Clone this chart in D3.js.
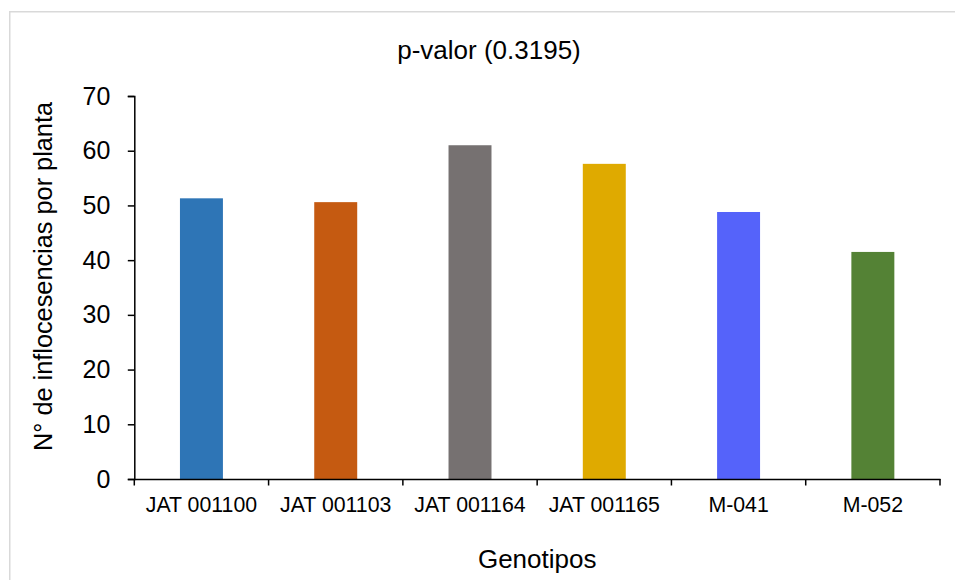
<!DOCTYPE html>
<html>
<head>
<meta charset="utf-8">
<script src="https://cdn.jsdelivr.net/npm/d3@7"></script>
<style>
  html, body { margin: 0; padding: 0; background: #fff; }
  svg { display: block; }
  text { font-family: "Liberation Sans", Arial, sans-serif; fill: #000; }
</style>
</head>
<body>
<svg id="chart" width="955" height="580"></svg>
<script>
const categories = ["JAT 001100", "JAT 001103", "JAT 001164", "JAT 001165", "M-041", "M-052"];
const values = [51.3, 50.6, 61.0, 57.6, 48.8, 41.5];
const colors = ["#2E75B6", "#C55A11", "#767171", "#DFAA00", "#5563FA", "#548235"];
const yTicks = [0, 10, 20, 30, 40, 50, 60, 70];
const title = "p-valor (0.3195)";
const xTitle = "Genotipos";
const yTitle = "N° de inflocesencias por planta";

const svg = d3.select("#chart");

// outer chart border
svg.append("rect")
  .attr("x", 9.75).attr("y", 11.75)
  .attr("width", 1000).attr("height", 1000)
  .attr("fill", "none").attr("stroke", "#D9D9D9").attr("stroke-width", 1.5);

const plotLeft = 134.3, plotRight = 940, plotTop = 96, plotBottom = 479;

const y = d3.scaleLinear().domain([0, 70]).range([plotBottom, plotTop]);
const x = d3.scaleBand().domain(categories).range([plotLeft, plotRight])
  .paddingInner(0.68).paddingOuter(0.34);
const xEdge = d3.scaleBand().domain(categories).range([plotLeft, plotRight]).padding(0);

// bars
svg.append("g").selectAll("rect")
  .data(categories)
  .join("rect")
  .attr("x", d => x(d))
  .attr("width", x.bandwidth())
  .attr("y", (d, i) => y(values[i]))
  .attr("height", (d, i) => y(0) - y(values[i]))
  .attr("fill", (d, i) => colors[i]);

// y axis
const yAxis = svg.append("g")
  .attr("transform", `translate(${plotLeft},0)`)
  .call(d3.axisLeft(y).tickValues(yTicks).tickFormat(d3.format("d")).tickSize(6.5).tickPadding(17.5));
yAxis.selectAll("text").style("font-size", "25px");
yAxis.selectAll("line, path").attr("stroke", "#000").attr("stroke-width", 1.5);

// x axis
const xAxis = svg.append("g")
  .attr("transform", `translate(0,${plotBottom})`)
  .call(d3.axisBottom(x).tickSize(0).tickPadding(18));
xAxis.selectAll("text").style("font-size", "21.3px");
xAxis.select("path").attr("stroke", "#000").attr("stroke-width", 1.5);
// boundary ticks
const edges = categories.map(c => xEdge(c)).concat([plotRight]);
xAxis.selectAll("line.edge")
  .data(edges)
  .join("line")
  .attr("class", "edge")
  .attr("x1", d => d).attr("x2", d => d)
  .attr("y1", 0).attr("y2", 6.5)
  .attr("stroke", "#000").attr("stroke-width", 1.5);

// title
svg.append("text")
  .attr("x", 489).attr("y", 59.3)
  .attr("text-anchor", "middle")
  .style("font-size", "26px")
  .text(title);

// x title
svg.append("text")
  .attr("x", 537.2).attr("y", 568)
  .attr("text-anchor", "middle")
  .style("font-size", "26px")
  .text(xTitle);

// y title
svg.append("text")
  .attr("transform", "translate(52,276.5) rotate(-90)")
  .attr("text-anchor", "middle")
  .style("font-size", "25.3px")
  .text(yTitle);
</script>
</body>
</html>
